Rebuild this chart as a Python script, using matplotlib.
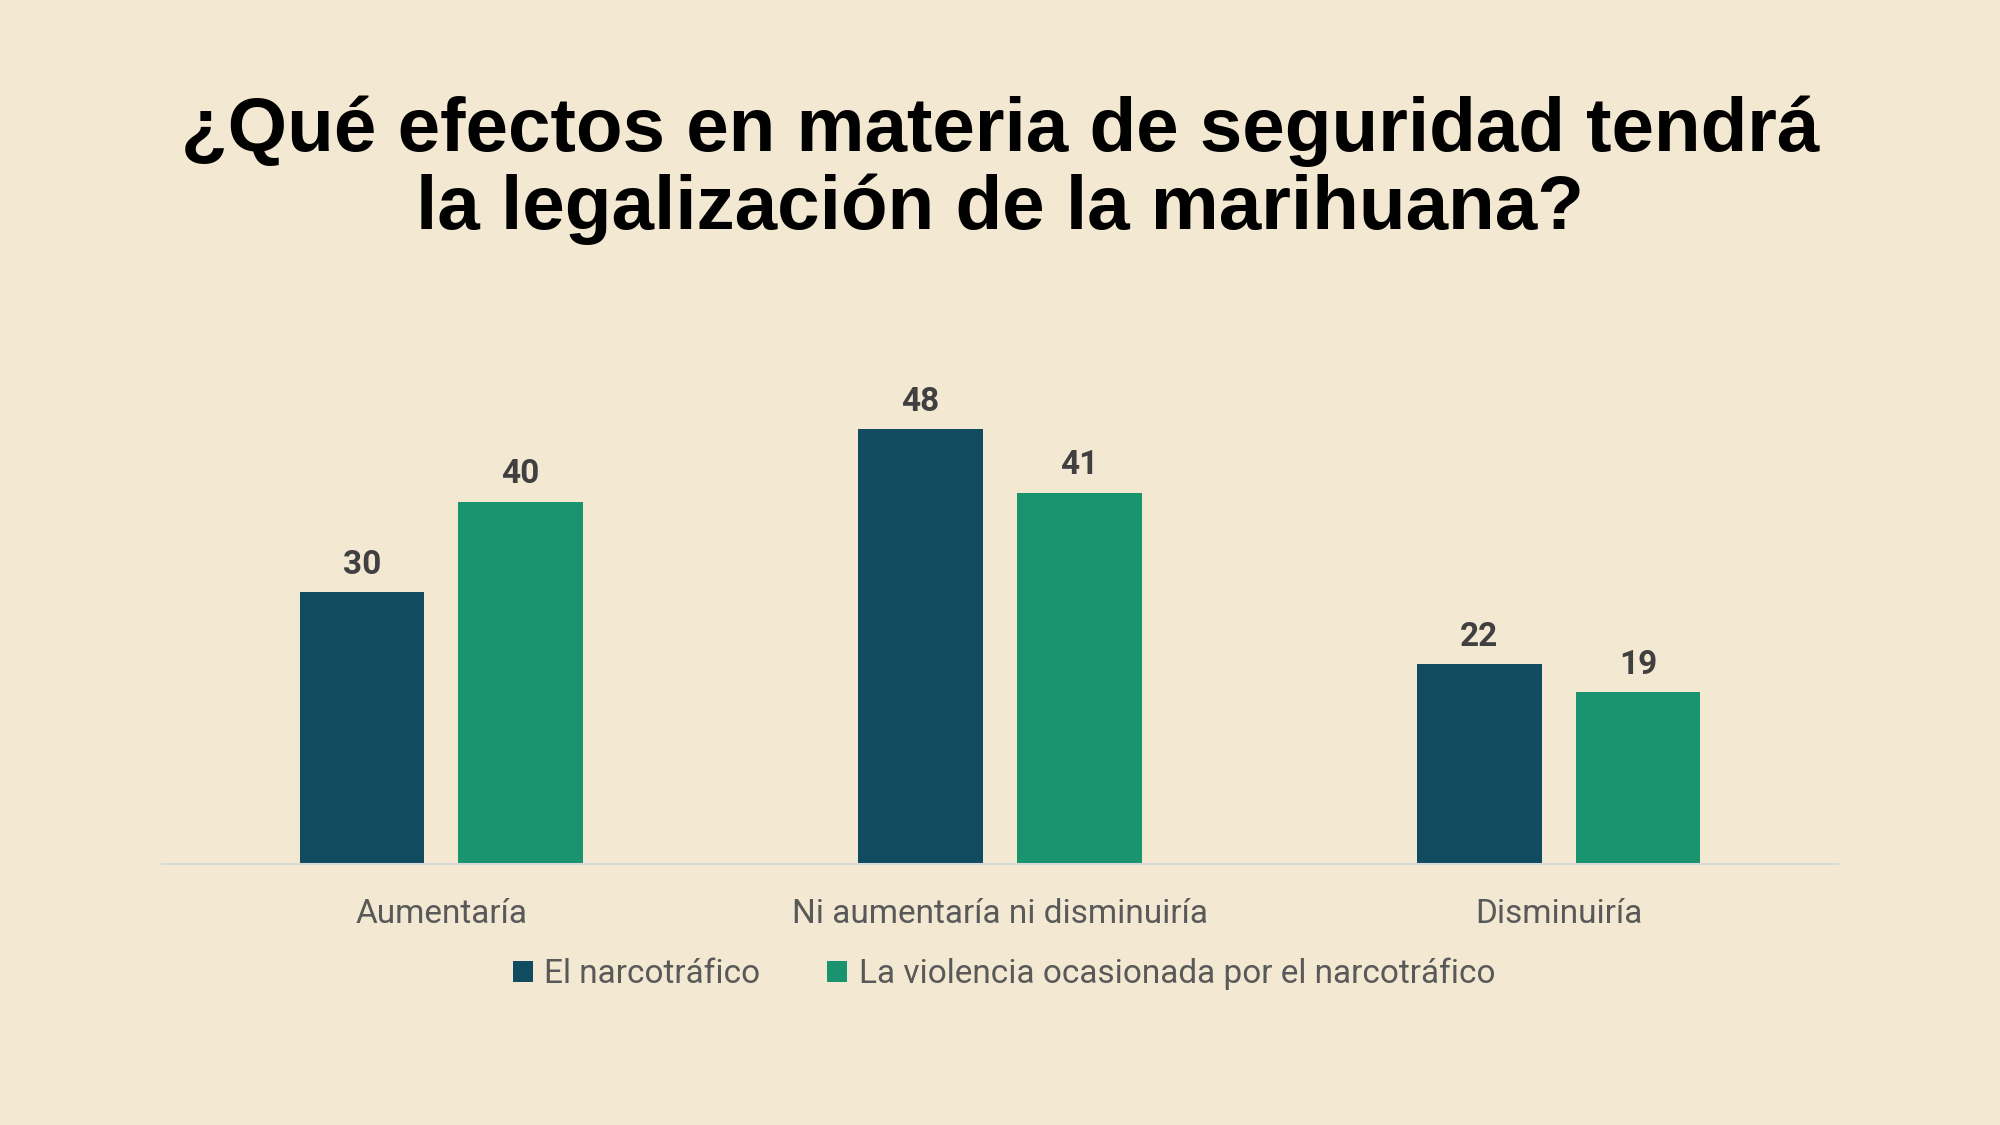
import matplotlib
matplotlib.use("Agg")
import matplotlib.pyplot as plt
import numpy as np

categories = ["Aumentaría", "Ni aumentaría ni disminuiría", "Disminuiría"]
series_names = ["El narcotráfico", "La violencia ocasionada por el narcotráfico"]
narco = [30, 48, 22]
violencia = [40, 41, 19]
title = "¿Qué efectos en materia de seguridad tendrá\nla legalización de la marihuana?"

bg = "#F3E9D2"
colors = ["#114B5F", "#1A936F"]

fig = plt.figure(figsize=(20, 11.25), dpi=100, facecolor=bg)
ax = fig.add_axes([0.081, 0.2324, 0.838, 0.4424])
ax.set_facecolor(bg)

x = np.arange(len(categories))
w = 0.2235
off = 0.142
b1 = ax.bar(x - off, narco, w, color=colors[0], label=series_names[0])
b2 = ax.bar(x + off, violencia, w, color=colors[1], label=series_names[1])

for bars in (b1, b2):
    for r in bars:
        ax.annotate(f"{r.get_height():.0f}", (r.get_x() + r.get_width() / 2, r.get_height()),
                    xytext=(0, 8), textcoords="offset points", ha="center", va="bottom",
                    fontsize=24, fontweight="bold", family="Roboto", color="#404040")

ax.set_xlim(-0.5, 2.5)
ax.set_ylim(0, 55)
ax.set_yticks([])
for s in ["top", "right", "left"]:
    ax.spines[s].set_visible(False)
ax.spines["bottom"].set_color("#D9D9D9")
ax.spines["bottom"].set_linewidth(1.5)
ax.set_xticks(x)
ax.set_xticklabels(categories, fontsize=24, family="Roboto", color="#595959")
ax.tick_params(axis="x", length=0, pad=25)

leg = fig.legend(handles=[b1, b2], loc="center", bbox_to_anchor=(0.502, 0.134), ncol=2,
                 frameon=False, handlelength=0.6, handleheight=0.6,
                 handletextpad=0.35, columnspacing=2.0, prop={"family": "Roboto", "size": 24})
for t in leg.get_texts():
    t.set_color("#595959")

fig.text(0.5, 0.849, title, ha="center", va="center", fontsize=55, fontweight="bold",
         family="Liberation Sans", color="black", linespacing=1.12)

fig.savefig("out.png", dpi=100, facecolor=bg)
